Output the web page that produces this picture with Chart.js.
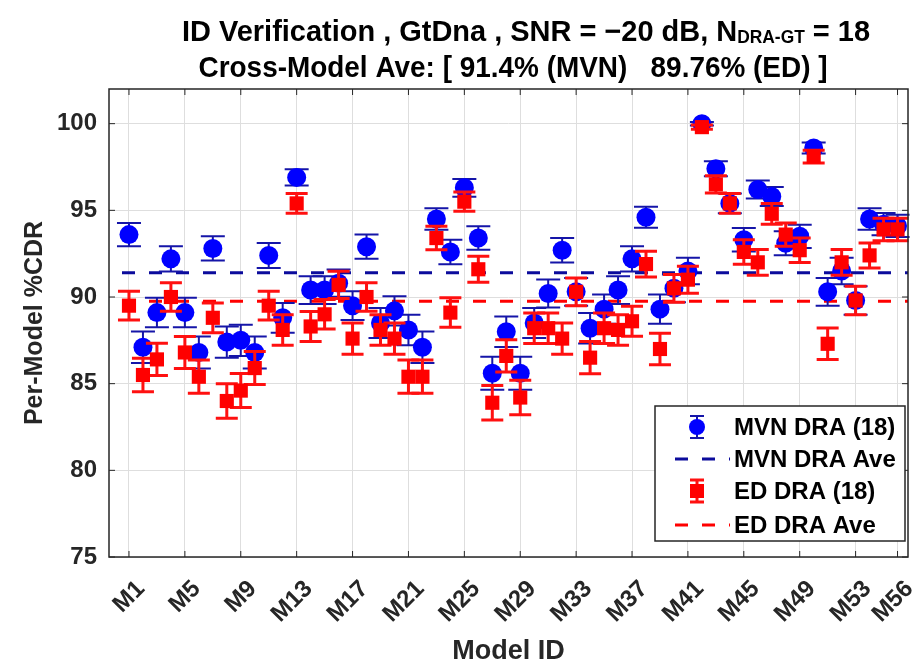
<!DOCTYPE html>
<html>
<head>
<meta charset="utf-8">
<script src="https://cdn.jsdelivr.net/npm/chart.js@4.4.1/dist/chart.umd.min.js"></script>
<style>
  html, body { margin: 0; padding: 0; background: #fff; }
</style>
</head>
<body>
<canvas id="cdr" width="919" height="668"></canvas>
<script>
// model index (M1..M56)
const modelNums = [1, 2, 3, 4, 5, 6, 7, 8, 9, 10, 11, 12, 13, 14, 15, 16, 17, 18, 19, 20,
  21, 22, 23, 24, 25, 26, 27, 28, 29, 30, 31, 32, 33, 34, 35, 36, 37, 38, 39, 40,
  41, 42, 43, 44, 45, 46, 47, 48, 49, 50, 51, 52, 53, 54, 55, 56];

// per-model %CDR, MVN DRA
const mvnCdr = [93.6, 87.1, 89.1, 92.2, 89.1, 86.8, 92.8, 87.4, 87.5, 86.8,
  92.4, 88.8, 96.9, 90.4, 90.4, 90.8, 89.5, 92.9, 88.5, 89.2,
  88.1, 87.1, 94.5, 92.6, 96.3, 93.4, 85.6, 88.0, 85.6, 88.5,
  90.2, 92.7, 90.3, 88.2, 89.3, 90.4, 92.2, 94.6, 89.3, 90.5,
  91.5, 100.0, 97.4, 95.4, 93.3, 96.2, 95.8, 93.1, 93.5, 98.6,
  90.3, 91.5, 89.8, 94.5, 94.2, 94.1];
const mvnErr = [0.67, 0.91, 0.85, 0.73, 0.85, 0.92, 0.70, 0.90, 0.90, 0.92,
  0.72, 0.86, 0.47, 0.80, 0.80, 0.79, 0.83, 0.70, 0.87, 0.84,
  0.88, 0.91, 0.62, 0.71, 0.51, 0.68, 0.95, 0.88, 0.95, 0.87,
  0.81, 0.71, 0.80, 0.88, 0.84, 0.80, 0.73, 0.61, 0.84, 0.80,
  0.76, 0.10, 0.43, 0.57, 0.68, 0.52, 0.55, 0.69, 0.67, 0.32,
  0.80, 0.76, 0.82, 0.62, 0.64, 0.64];

// per-model %CDR, ED DRA
const edCdr = [89.5, 85.5, 86.4, 90.0, 86.8, 85.4, 88.8, 84.0, 84.6, 85.9,
  89.5, 88.1, 95.4, 88.3, 89.0, 90.7, 87.6, 90.0, 88.1, 87.6,
  85.4, 85.4, 93.4, 89.1, 95.5, 91.6, 83.9, 86.6, 84.2, 88.2,
  88.2, 87.6, 90.3, 86.5, 88.2, 88.1, 88.6, 91.9, 87.0, 90.5,
  91.0, 99.8, 96.5, 95.4, 92.6, 92.0, 94.8, 93.6, 92.7, 98.1,
  87.3, 92.0, 89.8, 92.4, 93.9, 93.9];
const edErr = [0.83, 0.96, 0.93, 0.82, 0.92, 0.96, 0.86, 1.00, 0.98, 0.95,
  0.83, 0.88, 0.57, 0.87, 0.85, 0.79, 0.90, 0.82, 0.88, 0.90,
  0.96, 0.96, 0.68, 0.85, 0.56, 0.75, 1.00, 0.93, 0.99, 0.88,
  0.88, 0.90, 0.80, 0.93, 0.88, 0.88, 0.86, 0.74, 0.91, 0.80,
  0.78, 0.12, 0.50, 0.57, 0.71, 0.74, 0.60, 0.67, 0.71, 0.37,
  0.91, 0.74, 0.82, 0.72, 0.65, 0.65];

const mvnAve = 91.4;
const edAve = 89.76;

const xTicks = [1, 5, 9, 13, 17, 21, 25, 29, 33, 37, 41, 45, 49, 53, 56];
const yTicks = [75, 80, 85, 90, 95, 100];
const xMin = -0.43, xMax = 56.75;

const FONT = '"Liberation Sans", Arial, Helvetica, sans-serif';
const TXT = '#262626';

// error bars, drawn under each scatter dataset
const errorBars = {
  id: 'errorBars',
  beforeDatasetDraw(chart, args) {
    const ds = chart.data.datasets[args.index];
    if (!ds.errors) return;
    const { ctx, scales: { x, y } } = chart;
    ctx.save();
    ctx.strokeStyle = ds.errorColor;
    ctx.lineWidth = ds.errorWidth;
    ds.data.forEach((p, i) => {
      const e = ds.errors[i];
      const px = x.getPixelForValue(p.x);
      const top = y.getPixelForValue(p.y + e);
      const bot = y.getPixelForValue(p.y - e);
      const hw = ds.capHalf;
      ctx.beginPath();
      ctx.moveTo(px, top); ctx.lineTo(px, bot);
      ctx.moveTo(px - hw, top); ctx.lineTo(px + hw, top);
      ctx.moveTo(px - hw, bot); ctx.lineTo(px + hw, bot);
      ctx.stroke();
    });
    ctx.restore();
  }
};

// box, inward ticks, legend and title
const decor = {
  id: 'decor',
  afterDraw(chart) {
    const { ctx, chartArea: a, scales: { x, y } } = chart;
    ctx.save();

    // axes box + ticks
    ctx.strokeStyle = TXT;
    ctx.lineWidth = 1.5;
    ctx.strokeRect(a.left, a.top, a.right - a.left, a.bottom - a.top);
    ctx.lineWidth = 1;
    ctx.beginPath();
    xTicks.forEach(v => {
      const px = x.getPixelForValue(v);
      ctx.moveTo(px, a.bottom); ctx.lineTo(px, a.bottom - 6);
      ctx.moveTo(px, a.top); ctx.lineTo(px, a.top + 6);
    });
    yTicks.forEach(v => {
      const py = y.getPixelForValue(v);
      ctx.moveTo(a.left, py); ctx.lineTo(a.left + 6, py);
      ctx.moveTo(a.right, py); ctx.lineTo(a.right - 6, py);
    });
    ctx.stroke();

    // legend
    const lx = 655, ly = 406, lw = 250, lh = 135;
    ctx.fillStyle = '#fff';
    ctx.fillRect(lx, ly, lw, lh);
    ctx.strokeStyle = TXT;
    ctx.lineWidth = 1.5;
    ctx.strokeRect(lx, ly, lw, lh);
    const sx = 697;
    const rows = [
      { y: 427, text: 'MVN DRA (18)', kind: 'circle', color: '#0000ff', ecol: '#1515a8', ew: 2 },
      { y: 459, text: 'MVN DRA Ave', kind: 'dash', color: '#0b0b9c' },
      { y: 491, text: 'ED DRA (18)', kind: 'rect', color: '#ff0000', ecol: '#ff1010', ew: 3 },
      { y: 525, text: 'ED DRA Ave', kind: 'dash', color: '#ff0000' }
    ];
    rows.forEach(r => {
      if (r.kind === 'dash') {
        ctx.strokeStyle = r.color;
        ctx.lineWidth = 3;
        ctx.setLineDash([13, 14]);
        ctx.lineDashOffset = 14;
        ctx.beginPath();
        ctx.moveTo(662, r.y); ctx.lineTo(730, r.y);
        ctx.stroke();
        ctx.setLineDash([]);
      } else {
        ctx.strokeStyle = r.ecol;
        ctx.lineWidth = r.ew;
        ctx.beginPath();
        ctx.moveTo(sx, r.y - 11); ctx.lineTo(sx, r.y + 11);
        ctx.moveTo(sx - 7, r.y - 11); ctx.lineTo(sx + 7, r.y - 11);
        ctx.moveTo(sx - 7, r.y + 11); ctx.lineTo(sx + 7, r.y + 11);
        ctx.stroke();
        ctx.fillStyle = r.color;
        ctx.beginPath();
        if (r.kind === 'circle') ctx.arc(sx, r.y, 8, 0, Math.PI * 2);
        else ctx.rect(sx - 7, r.y - 7, 14, 14);
        ctx.fill();
      }
      ctx.fillStyle = '#000';
      ctx.font = 'bold 24px ' + FONT;
      ctx.textAlign = 'left';
      ctx.textBaseline = 'middle';
      ctx.fillText(r.text, 734, r.y + 1, 164);
    });

    // title, 2 lines
    ctx.fillStyle = '#000';
    ctx.textBaseline = 'alphabetic';
    ctx.textAlign = 'left';
    const big = 'bold 30px ' + FONT, small = 'bold 18px ' + FONT;
    const parts = [
      { t: 'ID Verification , GtDna , SNR = \u221220 dB, N', f: big, dy: 0 },
      { t: 'DRA-GT', f: small, dy: 2 },
      { t: ' = 18', f: big, dy: 0 }
    ];
    let w = 0;
    parts.forEach(p => { ctx.font = p.f; p.w = ctx.measureText(p.t).width; w += p.w; });
    const t1w = 688, t1c = 526;
    ctx.save();
    ctx.translate(t1c - t1w / 2, 41);
    ctx.scale(t1w / w, 1);
    let cx = 0;
    parts.forEach(p => { ctx.font = p.f; ctx.fillText(p.t, cx, p.dy); cx += p.w; });
    ctx.restore();

    const line2 = 'Cross-Model Ave: [ 91.4% (MVN)   89.76% (ED) ]';
    ctx.font = big;
    const w2 = ctx.measureText(line2).width;
    const t2w = 629, t2c = 513;
    ctx.save();
    ctx.translate(t2c - t2w / 2, 77);
    ctx.scale(t2w / w2, 1);
    ctx.fillText(line2, 0, 0);
    ctx.restore();

    ctx.restore();
  }
};

const mvnPoints = modelNums.map((m, i) => ({ x: m, y: mvnCdr[i] }));
const edPoints = modelNums.map((m, i) => ({ x: m, y: edCdr[i] }));

new Chart(document.getElementById('cdr').getContext('2d'), {
  type: 'scatter',
  data: {
    datasets: [
      {
        label: 'MVN DRA Ave', type: 'line',
        data: [{ x: xMin, y: mvnAve }, { x: xMax, y: mvnAve }],
        borderColor: '#0b0b9c', borderWidth: 3, borderDash: [13, 14], borderDashOffset: 14,
        pointRadius: 0, order: 4
      },
      {
        label: 'ED DRA Ave', type: 'line',
        data: [{ x: xMin, y: edAve }, { x: xMax, y: edAve }],
        borderColor: '#ff0000', borderWidth: 3, borderDash: [13, 14], borderDashOffset: 14,
        pointRadius: 0, order: 3
      },
      {
        label: 'MVN DRA (18)', data: mvnPoints,
        pointStyle: 'circle', pointRadius: 9.5, backgroundColor: '#0000ff', borderColor: '#0000ff', borderWidth: 0,
        order: 2, errors: mvnErr, errorColor: '#1515a8', errorWidth: 2, capHalf: 12
      },
      {
        label: 'ED DRA (18)', data: edPoints,
        pointStyle: 'rect', pointRadius: 10, backgroundColor: '#ff0000', borderColor: '#ff0000', borderWidth: 0,
        order: 1, errors: edErr, errorColor: '#ff1010', errorWidth: 3, capHalf: 11
      }
    ]
  },
  options: {
    responsive: false,
    animation: false,
    layout: { padding: { top: 89, right: 11, left: 0, bottom: 0 } },
    plugins: { legend: { display: false }, tooltip: { enabled: false } },
    scales: {
      x: {
        type: 'linear', min: xMin, max: xMax,
        afterBuildTicks: s => { s.ticks = xTicks.map(v => ({ value: v })); },
        afterFit: s => { s.height = 111; s.paddingLeft = 0; s.paddingRight = 0; },
        ticks: {
          autoSkip: false, minRotation: 45, maxRotation: 45, padding: 18, labelOffset: 12, color: TXT,
          font: { family: FONT, size: 24, weight: 'bold' },
          callback: v => 'M' + v
        },
        grid: { color: '#dedede', drawTicks: false },
        border: { display: false },
        title: {
          display: true, text: 'Model ID', color: TXT,
          font: { family: FONT, size: 27, weight: 'bold' }, padding: { top: 0, bottom: 0 }
        }
      },
      y: {
        min: 75, max: 102,
        afterBuildTicks: s => { s.ticks = yTicks.map(v => ({ value: v })); },
        afterFit: s => { s.width = 109; s.paddingTop = 0; s.paddingBottom = 0; },
        ticks: { padding: 12, color: TXT, font: { family: FONT, size: 24, weight: 'bold' } },
        grid: { color: '#dedede', drawTicks: false },
        border: { display: false },
        title: {
          display: true, text: 'Per-Model %CDR', color: TXT,
          font: { family: FONT, size: 25, weight: 'bold' }, padding: { top: 20, bottom: 0 }
        }
      }
    }
  },
  plugins: [errorBars, decor]
});
</script>
</body>
</html>
